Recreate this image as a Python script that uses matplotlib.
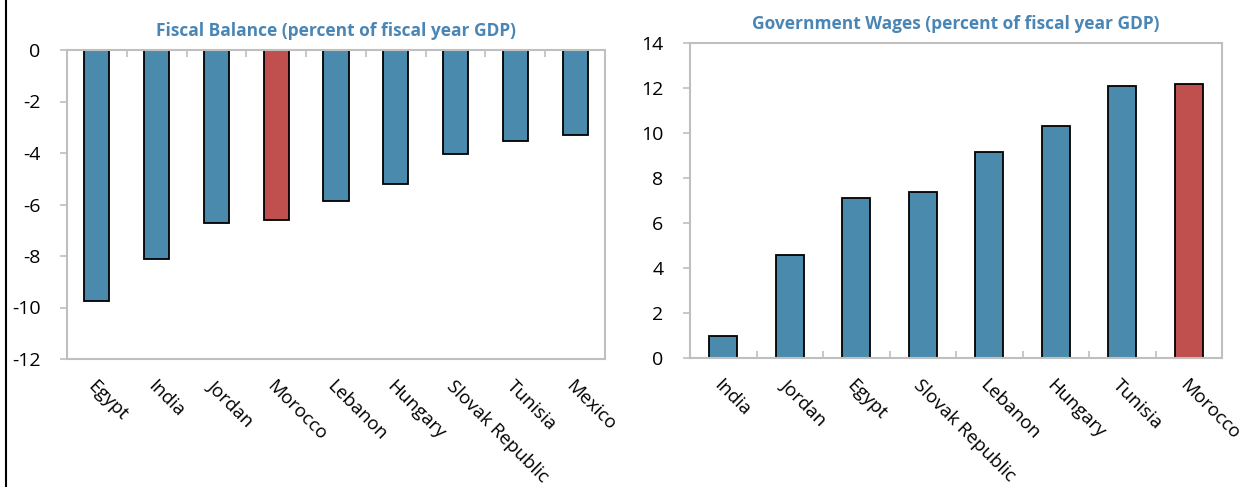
import matplotlib.pyplot as plt
from matplotlib.lines import Line2D
import numpy as np

plt.rcParams["font.family"] = ["Open Sans", "DejaVu Sans"]
plt.rcParams["axes.unicode_minus"] = False

BLUE = "#4A8BAD"
RED = "#C0504D"
TITLE_COLOR = "#4A86B5"
SPINE = "#BFBFBF"

balance_countries = ["Egypt", "India", "Jordan", "Morocco", "Lebanon",
                     "Hungary", "Slovak Republic", "Tunisia", "Mexico"]
balance_values = [-9.75, -8.1, -6.7, -6.6, -5.85, -5.2, -4.05, -3.55, -3.3]

wages_countries = ["India", "Jordan", "Egypt", "Slovak Republic", "Lebanon",
                   "Hungary", "Tunisia", "Morocco"]
wages_values = [1.0, 4.6, 7.1, 7.4, 9.15, 10.3, 12.1, 12.2]

highlight = "Morocco"


def style_axes(ax, names, tick_side):
    n = len(names)
    ax.set_xlim(-0.5, n - 0.5)
    for s in ax.spines.values():
        s.set_color(SPINE)
        s.set_linewidth(1.5)
    ax.set_xticks(np.arange(n))
    ax.set_xticklabels(names, rotation=-45, ha="left", va="top",
                       rotation_mode="anchor", fontsize=13.5)
    ax.tick_params(axis="x", which="major", length=0, pad=13)
    ax.set_xticks(np.arange(n - 1) + 0.5, minor=True)
    if tick_side == "top":
        ax.tick_params(axis="x", which="minor", bottom=False, top=True,
                       direction="in", length=5, color=SPINE, width=1.2)
    else:
        ax.tick_params(axis="x", which="minor", bottom=True, top=False,
                       direction="in", length=5, color=SPINE, width=1.2)
    ax.tick_params(axis="y", direction="out", length=5, color=SPINE,
                   width=1.2, labelsize=14, pad=14)


def bar_colors(names):
    return [RED if c == highlight else BLUE for c in names]


fig = plt.figure(figsize=(12.51, 4.87), dpi=100)

ax1 = fig.add_axes([67 / 1251, 1 - 359 / 487, (605 - 67) / 1251, (359 - 50) / 487])
ax1.bar(np.arange(len(balance_countries)), balance_values, width=0.42,
        color=bar_colors(balance_countries), edgecolor="black", linewidth=1.3)
ax1.set_ylim(-12, 0)
ax1.set_yticks(np.arange(-12, 1, 2))
style_axes(ax1, balance_countries, "top")
ax1.set_title("Fiscal Balance (percent of fiscal year GDP)", color=TITLE_COLOR,
              fontweight="bold", fontsize=12.5, pad=10)

ax2 = fig.add_axes([690 / 1251, 1 - 358 / 487, (1222 - 690) / 1251, (358 - 43) / 487])
ax2.bar(np.arange(len(wages_countries)), wages_values, width=0.42,
        color=bar_colors(wages_countries), edgecolor="black", linewidth=1.3)
ax2.set_ylim(0, 14)
ax2.set_yticks(np.arange(0, 15, 2))
style_axes(ax2, wages_countries, "bottom")
ax2.set_title("Government Wages (percent of fiscal year GDP)", color=TITLE_COLOR,
              fontweight="bold", fontsize=12.5, pad=10)

fig.add_artist(Line2D([6 / 1251, 6 / 1251], [0, 1], color="black", linewidth=1.5))

fig.savefig("out.png", dpi=100)
